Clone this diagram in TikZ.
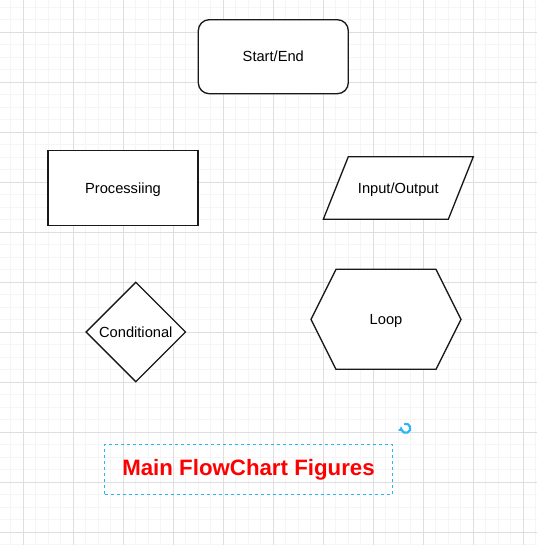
\documentclass[tikz,border=0pt]{standalone}
\usepackage{fontspec}
\setmainfont{Liberation Sans}
\usetikzlibrary{arrows,arrows.meta,shapes}
\definecolor{selblue}{RGB}{41,182,242}

\begin{document}
\begin{tikzpicture}[x=0.75pt,y=-0.75pt,>=stealth',font=\fontsize{11}{13}\selectfont]

  \tikzstyle{minor line}=[draw=black!4,line width=0.75pt]
  \tikzstyle{major line}=[draw=black!13,line width=0.75pt]
  \tikzstyle{caps}=[text height=7.9pt,text depth=0pt]
  \tikzstyle{figure}=[draw=black!90,line width=1pt,fill=white]
  \tikzstyle{terminal}=[figure,caps,rectangle,rounded corners=8.25pt,minimum width=112.5pt,minimum height=55.5pt]
  \tikzstyle{process}=[figure,caps,rectangle,minimum width=112.5pt,minimum height=56.25pt]
  \tikzstyle{decision}=[figure,caps,diamond,inner sep=0pt,minimum width=75pt,minimum height=75pt]
  \tikzstyle{title box}=[draw=selblue,line width=0.75pt,dash pattern=on 2.25pt off 2.25pt,minimum width=215.7pt,minimum height=37.3pt,text height=12pt,text depth=2.6pt,text=red,font=\fontsize{16.7}{20}\bfseries]

  % background grid
  \fill[white] (0,0) rectangle (537,545);
  \useasboundingbox (0,0) rectangle (537,545);
  \foreach \x in {10.8,23.3,...,537} \draw[minor line] (\x,0) -- (\x,545);
  \foreach \y in {7.3,19.8,...,545} \draw[minor line] (0,\y) -- (537,\y);
  \foreach \x in {23.3,73.3,...,537} \draw[major line] (\x,0) -- (\x,545);
  \foreach \y in {32.3,82.3,...,545} \draw[major line] (0,\y) -- (537,\y);

  % figures
  \path (273.3,56.7)  node[terminal] (start) {Start/End}
        (123,188.2)   node[process]  (proc)  {Processiing}
        (135.8,332)   node[decision] (cond)  {Conditional};

  \draw[figure] (348.3,156.7) -- (473.3,156.7) -- (448.3,219.3) -- (323.3,219.3) -- cycle;
  \node[caps] (io) at (398.3,188.3) {Input/Output};

  \draw[figure] (311,319.3) -- (336,269.3) -- (436,269.3) -- (461,319.3) -- (436,369.3) -- (336,369.3) -- cycle;
  \node[caps] (loop) at (386,319.5) {Loop};

  % caption
  \node[title box] (title) at (248.5,469.2) {Main FlowChart Figures};
  \draw[selblue,line width=1.6pt,-{Triangle[length=2.6pt,width=4.2pt]}] (405.8,428.3) ++(-110:4.6) arc[start angle=-110,end angle=190,radius=4.6];

\end{tikzpicture}
\end{document}
